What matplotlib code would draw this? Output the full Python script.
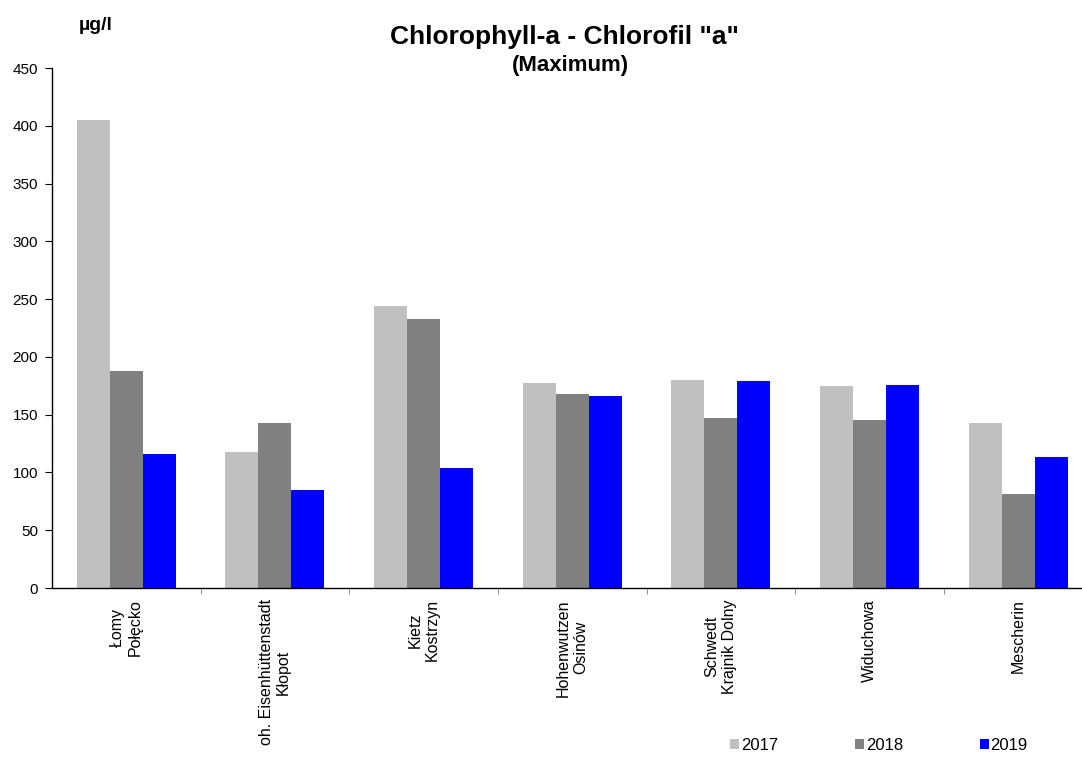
import numpy as np
import matplotlib.pyplot as plt
from matplotlib.ticker import FixedLocator

plt.rcParams['font.family'] = ['Liberation Sans', 'DejaVu Sans']

stacje = ['Łomy\nPołęcko', 'oh. Eisenhüttenstadt\nKłopot', 'Kietz\nKostrzyn',
          'Hohenwutzen\nOsinów', 'Schwedt\nKrajnik Dolny', 'Widuchowa', 'Mescherin']
lata = ['2017', '2018', '2019']
wart_2017 = [405, 118, 244, 177, 180, 175, 143]
wart_2018 = [188, 143, 233, 168, 147, 145, 81]
wart_2019 = [116, 85, 104, 166, 179, 176, 113]
kolory = ['#c0c0c0', '#808080', '#0000ff']

fig = plt.figure(figsize=(10.82, 7.58), dpi=100)
ax = fig.add_axes([52 / 1082, 1 - 588 / 758, 1 - 52 / 1082, (588 - 68) / 758])

x = np.arange(len(stacje))
szer = 0.222
for i, (serie, kol, rok) in enumerate(zip([wart_2017, wart_2018, wart_2019], kolory, lata)):
    ax.bar(x + (i - 1) * szer, serie, width=szer, color=kol, label=rok, linewidth=0)

ax.set_ylim(0, 450)
ax.set_yticks(np.arange(0, 451, 50))
ax.set_xlim(-0.5, 6.43)
ax.set_xticks(x)
ax.set_xticklabels(stacje, rotation=90, va='top', ha='center', fontsize=11.5)
ax.xaxis.set_minor_locator(FixedLocator(np.arange(0.5, 6, 1)))
ax.tick_params(axis='x', which='major', length=0, pad=8)
ax.tick_params(axis='x', which='minor', length=4, color='#808080', direction='out')
ax.tick_params(axis='y', length=5, labelsize=11, pad=5, direction='out')
for s in ['top', 'right']:
    ax.spines[s].set_visible(False)
ax.spines['left'].set_linewidth(1)
ax.spines['bottom'].set_linewidth(1)

fig.text(564 / 1082, 1 - 44 / 758, 'Chlorophyll-a - Chlorofil "a"', ha='center', va='baseline',
         fontsize=19, fontweight='bold')
fig.text(570 / 1082, 1 - 71 / 758, '(Maximum)', ha='center', va='baseline',
         fontsize=16, fontweight='bold')
fig.text(96 / 1082, 1 - 30 / 758, 'µg/l', ha='center', va='baseline',
         fontsize=14, fontweight='bold')

fig.legend(loc='center', bbox_to_anchor=(879 / 1082, 1 - 745 / 758), ncol=3, frameon=False,
           fontsize=12, handlelength=0.55, handleheight=0.55, handletextpad=0.1,
           columnspacing=4.6)

fig.savefig('out.png', dpi=100)
